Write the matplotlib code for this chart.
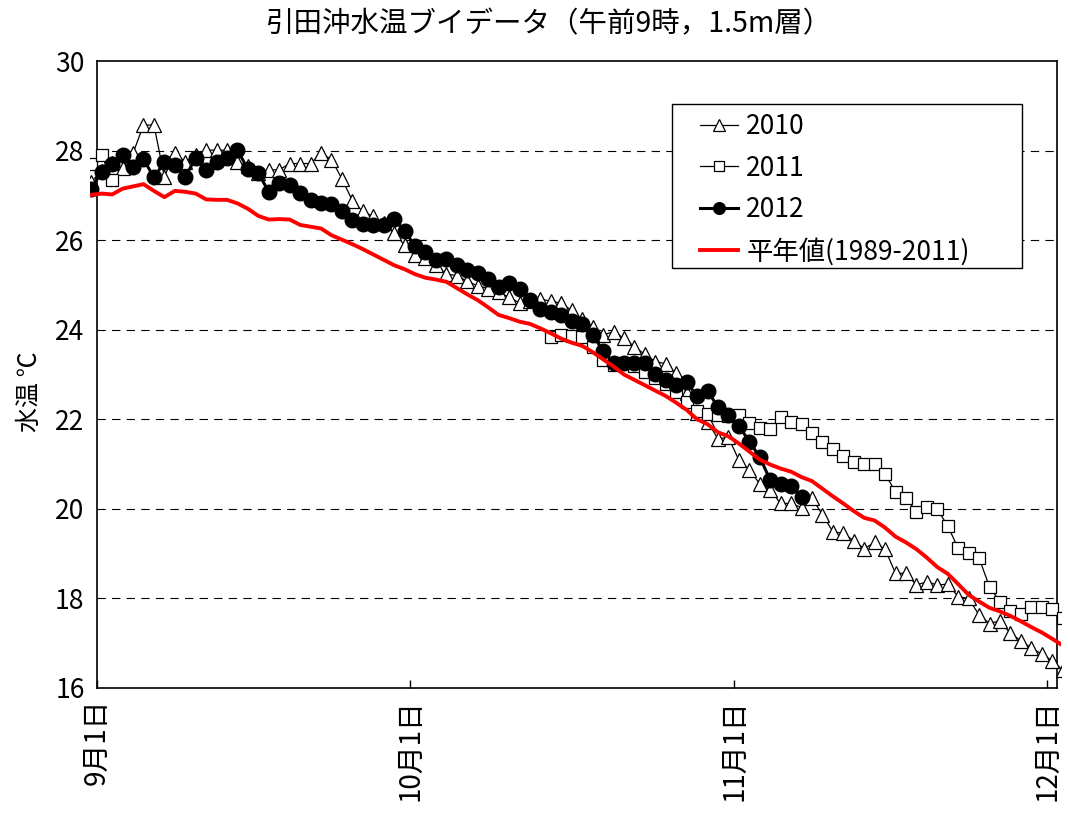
import numpy as np
import matplotlib
matplotlib.use("Agg")
import matplotlib.pyplot as plt
from matplotlib.patches import Rectangle

plt.rcParams['font.family'] = ['Noto Sans CJK JP', 'DejaVu Sans']
plt.rcParams['lines.scale_dashes'] = False

#################################################
#            Data
#################################################
# day index: -1 = Aug 31, 0 = Sep 1 ... 91 = Dec 1, 92 = Dec 2
days = np.arange(-1, 93)

t2010 = [27.3, 27.55, 27.72, 27.6, 27.94, 28.57, 28.57, 27.42, 27.94, 27.75,
         27.9, 28.01, 28.01, 28.01, 27.75, 27.65, 27.5, 27.57, 27.57, 27.71,
         27.71, 27.71, 27.94, 27.80, 27.37, 26.88, 26.64, 26.53, 26.38, 26.15,
         25.89, 25.67, 25.6, 25.45, 25.24, 25.21, 25.08, 24.98, 24.92, 24.85,
         24.72, 24.60, 24.64, 24.68, 24.64, 24.59, 24.43, 24.23, 24.07, 23.88,
         23.96, 23.81, 23.62, 23.45, 23.29, 23.24, 23.03, 22.58, 22.15, 21.95,
         21.56, 21.6, 21.09, 20.87, 20.56, 20.42, 20.12, 20.12, 20.03, 20.24,
         19.87, 19.49, 19.45, 19.29, 19.11, 19.25, 19.10, 18.56, 18.56, 18.30,
         18.37, 18.30, 18.32, 18.04, 18.00, 17.63, 17.44, 17.50, 17.22, 17.06,
         16.89, 16.76, 16.61, 16.4]

t2011 = [27.7, 27.9, 27.34] + [np.nan] * 41 + \
        [23.83, 23.88, 23.86, 23.84, 23.62, 23.32, 23.22, 23.25, 23.2, 23.06,
         22.92, 22.78, 22.62, 22.38, 22.18, 22.12, 22.10, 22.08, 22.10, 21.91,
         21.80, 21.78, 22.06, 21.93, 21.90, 21.70, 21.50, 21.33, 21.19, 21.05,
         21.00, 21.00, 20.78, 20.38, 20.24, 19.94, 20.05, 19.99, 19.62, 19.12,
         19.01, 18.90, 18.26, 17.93, 17.73, 17.65, 17.80, 17.80, 17.76, 17.56]

t2012 = [27.15, 27.53, 27.70, 27.89, 27.64, 27.81, 27.40, 27.74, 27.68, 27.42,
         27.83, 27.57, 27.75, 27.83, 28.01, 27.58, 27.49, 27.08, 27.27, 27.23,
         27.05, 26.90, 26.84, 26.81, 26.64, 26.45, 26.36, 26.34, 26.34, 26.47,
         26.21, 25.87, 25.74, 25.56, 25.57, 25.45, 25.33, 25.27, 25.13, 24.96,
         25.04, 24.90, 24.66, 24.46, 24.40, 24.33, 24.2, 24.12, 23.88, 23.53,
         23.26, 23.26, 23.26, 23.26, 23.01, 22.88, 22.77, 22.84, 22.51, 22.64,
         22.27, 22.10, 21.86, 21.50, 21.16, 20.64, 20.55, 20.50, 20.26] + [np.nan] * 25

normal = [27.01, 27.04, 27.02, 27.15, 27.2, 27.25, 27.1, 26.96, 27.1, 27.08,
          27.04, 26.91, 26.9, 26.9, 26.82, 26.7, 26.54, 26.46, 26.47, 26.46,
          26.34, 26.3, 26.26, 26.11, 26.01, 25.91, 25.8, 25.68, 25.56, 25.44,
          25.35, 25.24, 25.16, 25.12, 25.07, 24.93, 24.79, 24.66, 24.5, 24.33,
          24.26, 24.18, 24.13, 24.03, 23.92, 23.8, 23.71, 23.64, 23.5, 23.34,
          23.18, 23.0, 22.88, 22.76, 22.64, 22.52, 22.37, 22.21, 22.0, 21.89,
          21.71, 21.62, 21.46, 21.28, 21.1, 20.99, 20.9, 20.83, 20.71, 20.62,
          20.45, 20.28, 20.12, 19.95, 19.8, 19.74, 19.58, 19.38, 19.25, 19.1,
          18.91, 18.7, 18.55, 18.32, 18.08, 17.93, 17.79, 17.71, 17.61, 17.49,
          17.36, 17.24, 17.1, 16.95]

tick_days = [0, 30, 61, 91]
tick_labels = ['9月1日', '10月1日', '11月1日', '12月1日']
yticks = [16, 18, 20, 22, 24, 26, 28, 30]
grid_y = [18, 20, 22, 24, 26, 28]

#################################################
#                    Plot
#################################################
W, H = 1068, 814
fig = plt.figure(figsize=(W / 100, H / 100), dpi=100)
ax = fig.add_axes([97 / W, 1 - 688 / H, 960 / W, 627 / H])
xmax = 960 / 10.445
ax.set_xlim(0, xmax)
ax.set_ylim(16, 30)

x = days + 0.45

# plotted data may spill a few pixels past the left/right frame, as in Excel
clip = Rectangle((-7 / 960, 0), 1 + 11 / 960, 1, transform=ax.transAxes)

for g in grid_y:
    ax.plot([0, xmax], [g, g], color='black', lw=0.8, dashes=(6, 4.5), zorder=1)

l10, = ax.plot(x, t2010, color='black', lw=0.9, marker='^', ms=10,
               mfc='white', mec='black', mew=0.9, zorder=3, label='2010')
l11, = ax.plot(x, t2011, color='black', lw=0.9, marker='s', ms=8.5,
               mfc='white', mec='black', mew=0.9, zorder=4, label='2011')
l12, = ax.plot(x, t2012, color='black', lw=2.2, marker='o', ms=10.5,
               mfc='black', mec='black', zorder=5, label='2012')
lnm, = ax.plot(x, normal, color='#ff0000', lw=2.8, zorder=6,
               label='平年値(1989-2011)')
for ln in (l10, l11, l12, lnm):
    ln.set_clip_path(clip)

ax.set_xticks(tick_days)
ax.set_xticklabels(tick_labels, rotation=90, fontsize=20)
ax.set_yticks(yticks)
ax.set_yticklabels([str(v) for v in yticks], fontsize=19)
ax.tick_params(axis='x', direction='in', length=6, width=1, pad=8)
ax.tick_params(axis='y', length=0, pad=9)
for sp in ax.spines.values():
    sp.set_linewidth(1.2)
    sp.set_color('black')

fig.text(30 / W, 1 - 392 / H, '水温 ℃', rotation=90, fontsize=18,
         ha='center', va='center')
fig.text(549 / W, 1 - 24 / H, '引田沖水温ブイデータ（午前9時，1.5m層）',
         fontsize=20.5, ha='center', va='center')

# legend box drawn separately so it can match the original size
box = Rectangle((672 / W, 1 - 268 / H), 350 / W, 164 / H,
                transform=fig.transFigure, facecolor='white',
                edgecolor='black', lw=1.0, zorder=9, clip_on=False)
ax.add_patch(box)
leg = ax.legend(handles=[l10, l11, l12, lnm], loc='upper left',
                bbox_to_anchor=(700 / W, 1 - 113 / H),
                bbox_transform=fig.transFigure, borderaxespad=0,
                fontsize=19, frameon=False, borderpad=0,
                handlelength=1.45, handletextpad=0.3, labelspacing=0.55,
                markerscale=0.8)
leg.set_zorder(10)

fig.savefig('out.png', dpi=100)
